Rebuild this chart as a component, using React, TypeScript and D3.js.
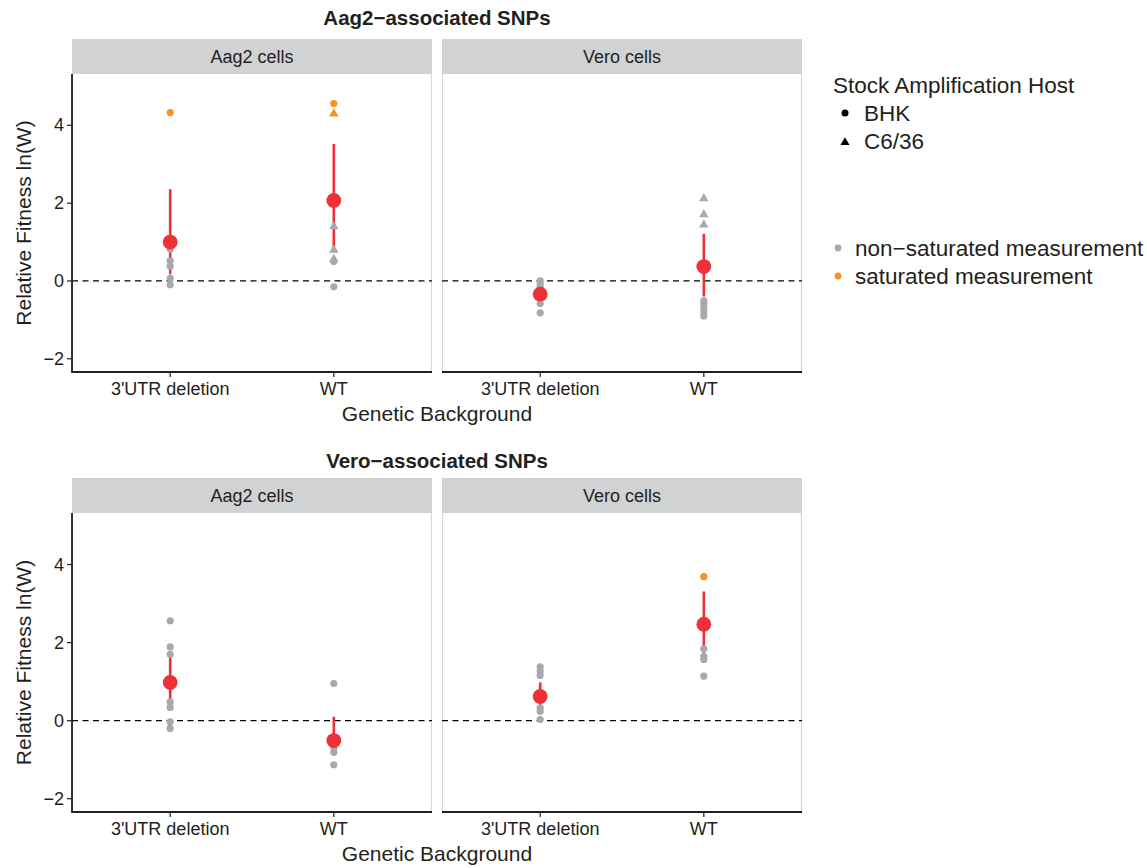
import React from "react";
import * as d3 from "d3";

// ---------- data ----------
const backgrounds = ["3'UTR deletion", "WT"];
const cellTypes = ["Aag2 cells", "Vero cells"];
const snpSets = ["Aag2\u2212associated SNPs", "Vero\u2212associated SNPs"];
const yTicks = [-2, 0, 2, 4];
const hostLegend = ["BHK", "C6/36"];
const saturationLegend = ["non\u2212saturated measurement", "saturated measurement"];

// points: [background, value, host, saturated]
type Pt = [string, number, string, boolean];
type Summ = [string, number, number, number]; // background, mean, lower, upper

const aag2SnpsAag2CellsPoints: Pt[] = [
  ["3'UTR deletion", 4.33, "BHK", true],
  ["3'UTR deletion", 0.82, "BHK", false],
  ["3'UTR deletion", 0.52, "BHK", false],
  ["3'UTR deletion", 0.38, "BHK", false],
  ["3'UTR deletion", 0.07, "BHK", false],
  ["3'UTR deletion", -0.1, "BHK", false],
  ["WT", 4.56, "BHK", true],
  ["WT", 4.31, "C6/36", true],
  ["WT", 1.41, "C6/36", false],
  ["WT", 0.81, "C6/36", false],
  ["WT", 0.57, "C6/36", false],
  ["WT", 0.5, "BHK", false],
  ["WT", -0.15, "BHK", false],
];
const aag2SnpsVeroCellsPoints: Pt[] = [
  ["3'UTR deletion", 0.0, "BHK", false],
  ["3'UTR deletion", -0.08, "BHK", false],
  ["3'UTR deletion", -0.16, "BHK", false],
  ["3'UTR deletion", -0.58, "BHK", false],
  ["3'UTR deletion", -0.82, "BHK", false],
  ["WT", 2.13, "C6/36", false],
  ["WT", 1.72, "C6/36", false],
  ["WT", 1.46, "C6/36", false],
  ["WT", -0.51, "BHK", false],
  ["WT", -0.59, "BHK", false],
  ["WT", -0.7, "BHK", false],
  ["WT", -0.79, "BHK", false],
  ["WT", -0.9, "BHK", false],
];
const veroSnpsAag2CellsPoints: Pt[] = [
  ["3'UTR deletion", 2.56, "BHK", false],
  ["3'UTR deletion", 1.89, "BHK", false],
  ["3'UTR deletion", 1.7, "BHK", false],
  ["3'UTR deletion", 0.48, "BHK", false],
  ["3'UTR deletion", 0.34, "BHK", false],
  ["3'UTR deletion", -0.03, "BHK", false],
  ["3'UTR deletion", -0.2, "BHK", false],
  ["WT", 0.95, "BHK", false],
  ["WT", -0.7, "BHK", false],
  ["WT", -0.81, "BHK", false],
  ["WT", -1.13, "BHK", false],
];
const veroSnpsVeroCellsPoints: Pt[] = [
  ["3'UTR deletion", 1.38, "BHK", false],
  ["3'UTR deletion", 1.27, "BHK", false],
  ["3'UTR deletion", 1.16, "BHK", false],
  ["3'UTR deletion", 0.33, "BHK", false],
  ["3'UTR deletion", 0.24, "BHK", false],
  ["3'UTR deletion", 0.03, "BHK", false],
  ["WT", 3.69, "BHK", true],
  ["WT", 1.84, "BHK", false],
  ["WT", 1.65, "BHK", false],
  ["WT", 1.57, "BHK", false],
  ["WT", 1.14, "BHK", false],
];

const aag2SnpsAag2CellsSummary: Summ[] = [
  ["3'UTR deletion", 1.0, 0.17, 2.36],
  ["WT", 2.07, 0.8, 3.52],
];
const aag2SnpsVeroCellsSummary: Summ[] = [
  ["3'UTR deletion", -0.34, -0.5, -0.2],
  ["WT", 0.37, -0.4, 1.21],
];
const veroSnpsAag2CellsSummary: Summ[] = [
  ["3'UTR deletion", 0.98, 0.33, 1.66],
  ["WT", -0.51, -0.9, 0.1],
];
const veroSnpsVeroCellsSummary: Summ[] = [
  ["3'UTR deletion", 0.62, 0.21, 0.98],
  ["WT", 2.47, 1.74, 3.31],
];

const rows = [
  { title: snpSets[0], panels: [
    { strip: cellTypes[0], points: aag2SnpsAag2CellsPoints, summary: aag2SnpsAag2CellsSummary },
    { strip: cellTypes[1], points: aag2SnpsVeroCellsPoints, summary: aag2SnpsVeroCellsSummary },
  ] },
  { title: snpSets[1], panels: [
    { strip: cellTypes[0], points: veroSnpsAag2CellsPoints, summary: veroSnpsAag2CellsSummary },
    { strip: cellTypes[1], points: veroSnpsVeroCellsPoints, summary: veroSnpsVeroCellsSummary },
  ] },
];

// ---------- styles ----------
const FONT = "'Liberation Sans', Arial, Helvetica, sans-serif";
const TEXT = "#231f20";
const GREY = "#a7a9ac";
const ORANGE = "#f7941d";
const RED = "#ee3139";
const STRIP = "#d1d2d4";

const W = 1147, H = 868;
const panelX = [[72, 432], [442, 802]];
const rowLayout = [
  { titleY: 25, stripTop: 39, top: 74, bottom: 372 },
  { titleY: 468, stripTop: 478, top: 513, bottom: 812 },
];
const yDomain: [number, number] = [-2.34, 5.32];

const triPath = (cx: number, cy: number, s: number) =>
  `M${cx},${cy - s}L${cx + s * 0.95},${cy + s * 0.65}L${cx - s * 0.95},${cy + s * 0.65}Z`;

export default function App() {
  return (
    <svg width={W} height={H} style={{ display: "block", position: "absolute", left: 0, top: 0 }}
      fontFamily={FONT}>
      <rect width={W} height={H} fill="#fff" />
      {rows.map((row, ri) => {
        const L = rowLayout[ri];
        const y = d3.scaleLinear().domain(yDomain).range([L.bottom, L.top]);
        return (
          <g key={ri}>
            <text x={(panelX[0][0] + panelX[1][1]) / 2} y={L.titleY} textAnchor="middle"
              fontWeight="bold" fontSize={20.5} fill={TEXT}>{row.title}</text>
            {row.panels.map((p, pi) => {
              const [x0, x1] = panelX[pi];
              const x = d3.scalePoint().domain(backgrounds).range([x0, x1]).padding(0.6);
              return (
                <g key={pi}>
                  <rect x={x0} y={L.stripTop} width={x1 - x0} height={L.top - L.stripTop} fill={STRIP} />
                  <text x={(x0 + x1) / 2} y={(L.stripTop + L.top) / 2 + 6.5} textAnchor="middle"
                    fontSize={18} fill={TEXT}>{p.strip}</text>
                  {/* panel border */}
                  <line x1={x0 + 0.5} x2={x0 + 0.5} y1={L.top} y2={L.bottom} stroke="#d6d6d6" strokeWidth={1.2} />
                  <line x1={x1 - 0.5} x2={x1 - 0.5} y1={L.top} y2={L.bottom} stroke="#d6d6d6" strokeWidth={1.2} />
                  {/* zero reference */}
                  <line x1={x0} x2={x1} y1={y(0)} y2={y(0)} stroke="#000" strokeWidth={1.2} strokeDasharray="6,4.5" />
                  {/* error bars */}
                  {p.summary.map((s, i) => (
                    <line key={i} x1={x(s[0])} x2={x(s[0])} y1={y(s[2])} y2={y(s[3])} stroke={RED} strokeWidth={2.6} />
                  ))}
                  {/* points */}
                  {p.points.map((d, i) => {
                    const cx = x(d[0])!, cy = y(d[1]);
                    const col = d[3] ? ORANGE : GREY;
                    return d[2] === "BHK"
                      ? <circle key={i} cx={cx} cy={cy} r={3.6} fill={col} />
                      : <path key={i} d={triPath(cx, cy, 5)} fill={col} />;
                  })}
                  {/* means */}
                  {p.summary.map((s, i) => (
                    <circle key={i} cx={x(s[0])} cy={y(s[1])} r={7.4} fill={RED} />
                  ))}
                  {/* x axis */}
                  <line x1={x0} x2={x1} y1={L.bottom} y2={L.bottom} stroke="#231f20" strokeWidth={1.8} />
                  {backgrounds.map((b) => (
                    <g key={b}>
                      <line x1={x(b)} x2={x(b)} y1={L.bottom} y2={L.bottom + 5} stroke="#231f20" strokeWidth={1.2} />
                      <text x={x(b)} y={L.bottom + 23} textAnchor="middle" fontSize={18} fill={TEXT}>{b}</text>
                    </g>
                  ))}
                  {/* y axis on left panel */}
                  {pi === 0 && (
                    <g>
                      <line x1={x0} x2={x0} y1={L.top} y2={L.bottom + 0.9} stroke="#231f20" strokeWidth={1.8} />
                      {yTicks.map((t) => (
                        <g key={t}>
                          <line x1={x0 - 5} x2={x0} y1={y(t)} y2={y(t)} stroke="#231f20" strokeWidth={1.2} />
                          <text x={x0 - 8} y={y(t) + 6} textAnchor="end" fontSize={18} fill={TEXT}>
                            {t < 0 ? `\u2212${Math.abs(t)}` : t}
                          </text>
                        </g>
                      ))}
                    </g>
                  )}
                </g>
              );
            })}
            <text x={(panelX[0][0] + panelX[1][1]) / 2} y={L.bottom + 49} textAnchor="middle"
              fontSize={21} fill={TEXT}>Genetic Background</text>
            <text transform={`translate(31,${(L.top + L.bottom) / 2}) rotate(-90)`} textAnchor="middle"
              fontSize={21} fill={TEXT}>Relative Fitness ln(W)</text>
          </g>
        );
      })}
      {/* legends */}
      <g>
        <text x={833} y={93} fontSize={22.5} fill={TEXT}>Stock Amplification Host</text>
        {hostLegend.map((h, i) => {
          const cy = 113 + i * 28;
          return (
            <g key={h}>
              {h === "BHK"
                ? <circle cx={845} cy={cy} r={3.5} fill="#000" />
                : <path d={triPath(845, cy + 1, 4.8)} fill="#000" />}
              <text x={864} y={cy + 8} fontSize={22.5} fill={TEXT}>{h}</text>
            </g>
          );
        })}
        {saturationLegend.map((s, i) => {
          const cy = 248 + i * 28;
          return (
            <g key={s}>
              <circle cx={838} cy={cy} r={3.4} fill={i === 0 ? GREY : ORANGE} />
              <text x={855} y={cy + 8} fontSize={22.5} fill={TEXT}>{s}</text>
            </g>
          );
        })}
      </g>
    </svg>
  );
}
